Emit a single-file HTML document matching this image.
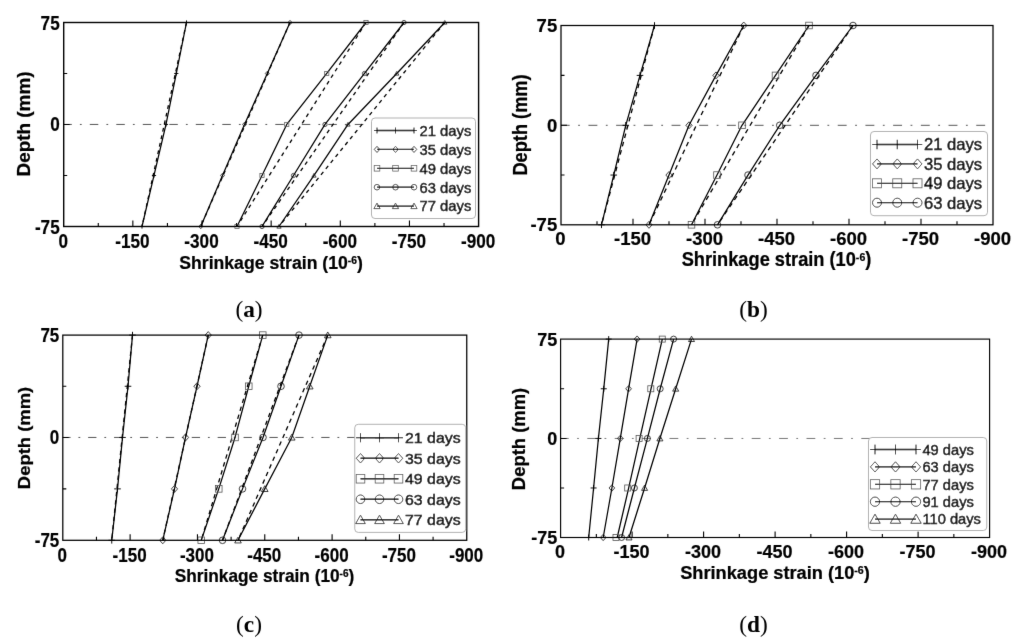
<!DOCTYPE html>
<html lang="en">
<head>
<meta charset="utf-8">
<title>Shrinkage strain versus depth</title>
<style>
html,body{margin:0;padding:0;background:#fff;}
body{width:1024px;height:644px;overflow:hidden;}
svg{display:block;}
</style>
</head>
<body>
<svg width="1024" height="644" viewBox="0 0 1024 644">
<defs><filter id="soft" x="0" y="0" width="1024" height="644" filterUnits="userSpaceOnUse"><feConvolveMatrix order="3" kernelMatrix="0.0049 0.0602 0.0049 0.0602 0.7396 0.0602 0.0049 0.0602 0.0049" divisor="1" edgeMode="duplicate" preserveAlpha="false"/></filter></defs>
<rect x="0" y="0" width="1024" height="644" fill="#fff"/>
<g filter="url(#soft)">
<path d="M63.7 124.45H364" stroke="#555" stroke-width="1" fill="none" stroke-dasharray="8.5 8.1 1.8 8.1" stroke-dashoffset="0.4"/>
<path d="M186.5 22.5L142 226.5" stroke="#000" stroke-width="1.3" fill="none" stroke-dasharray="3.8 3.9"/>
<path d="M290 22.5L200.75 226.5" stroke="#000" stroke-width="1.3" fill="none" stroke-dasharray="3.8 3.9"/>
<path d="M366 22.5L237 226.5" stroke="#000" stroke-width="1.3" fill="none" stroke-dasharray="3.8 3.9"/>
<path d="M404 22.5L262 226.5" stroke="#000" stroke-width="1.3" fill="none" stroke-dasharray="3.8 3.9"/>
<path d="M444.75 22.5L279 226.5" stroke="#000" stroke-width="1.3" fill="none" stroke-dasharray="3.8 3.9"/>
<path d="M186.5 22.5L176.3 73.47L166 124.45L154 175.47L142 226.5" stroke="#000" stroke-width="1.25" fill="none" stroke-linejoin="round"/>
<path d="M290 22.5L267.3 73.47L244.5 124.45L222.5 175.47L200.75 226.5" stroke="#000" stroke-width="1.25" fill="none" stroke-linejoin="round"/>
<path d="M366 22.5L326.75 73.47L286.75 124.45L262 175.47L237 226.5" stroke="#000" stroke-width="1.25" fill="none" stroke-linejoin="round"/>
<path d="M404 22.5L364.5 73.47L325 124.45L293.5 175.47L262 226.5" stroke="#000" stroke-width="1.25" fill="none" stroke-linejoin="round"/>
<path d="M444.75 22.5L396.75 73.47L348 124.45L314 175.47L279 226.5" stroke="#000" stroke-width="1.25" fill="none" stroke-linejoin="round"/>
<path d="M184.4 22.5H188.6M186.5 20.4V24.6" stroke="#000" stroke-width="0.95" fill="none"/>
<path d="M174.2 73.47H178.4M176.3 71.38V75.57" stroke="#000" stroke-width="0.95" fill="none"/>
<path d="M163.9 124.45H168.1M166 122.35V126.55" stroke="#000" stroke-width="0.95" fill="none"/>
<path d="M151.9 175.47H156.1M154 173.38V177.57" stroke="#000" stroke-width="0.95" fill="none"/>
<path d="M139.9 226.5H144.1M142 224.4V228.6" stroke="#000" stroke-width="0.95" fill="none"/>
<path d="M288.02 22.5L290 20.3L291.98 22.5L290 24.7Z" stroke="#111" stroke-width="0.75" fill="none"/>
<path d="M265.32 73.47L267.3 71.27L269.28 73.47L267.3 75.68Z" stroke="#111" stroke-width="0.75" fill="none"/>
<path d="M242.52 124.45L244.5 122.25L246.48 124.45L244.5 126.66Z" stroke="#111" stroke-width="0.75" fill="none"/>
<path d="M220.52 175.47L222.5 173.27L224.48 175.47L222.5 177.68Z" stroke="#111" stroke-width="0.75" fill="none"/>
<path d="M198.77 226.5L200.75 224.29L202.73 226.5L200.75 228.71Z" stroke="#111" stroke-width="0.75" fill="none"/>
<rect x="363.9" y="20.4" width="4.2" height="4.2" stroke="#555" stroke-width="0.75" fill="none"/>
<rect x="324.65" y="71.38" width="4.2" height="4.2" stroke="#555" stroke-width="0.75" fill="none"/>
<rect x="284.65" y="122.35" width="4.2" height="4.2" stroke="#555" stroke-width="0.75" fill="none"/>
<rect x="259.9" y="173.38" width="4.2" height="4.2" stroke="#555" stroke-width="0.75" fill="none"/>
<rect x="234.9" y="224.4" width="4.2" height="4.2" stroke="#555" stroke-width="0.75" fill="none"/>
<circle cx="404" cy="22.5" r="2.1" stroke="#111" stroke-width="0.75" fill="none"/>
<circle cx="364.5" cy="73.47" r="2.1" stroke="#111" stroke-width="0.75" fill="none"/>
<circle cx="325" cy="124.45" r="2.1" stroke="#111" stroke-width="0.75" fill="none"/>
<circle cx="293.5" cy="175.47" r="2.1" stroke="#111" stroke-width="0.75" fill="none"/>
<circle cx="262" cy="226.5" r="2.1" stroke="#111" stroke-width="0.75" fill="none"/>
<path d="M442.65 24.18L444.75 20.5L446.85 24.18Z" stroke="#111" stroke-width="0.75" fill="none"/>
<path d="M394.65 75.16L396.75 71.48L398.85 75.16Z" stroke="#111" stroke-width="0.75" fill="none"/>
<path d="M345.9 126.13L348 122.45L350.1 126.13Z" stroke="#111" stroke-width="0.75" fill="none"/>
<path d="M311.9 177.16L314 173.48L316.1 177.16Z" stroke="#111" stroke-width="0.75" fill="none"/>
<path d="M276.9 228.18L279 224.5L281.1 228.18Z" stroke="#111" stroke-width="0.75" fill="none"/>
<rect x="63.7" y="22.5" width="414.9" height="204" fill="none" stroke="#000" stroke-width="1.4"/>
<path d="M98.28 226.5V223M132.85 226.5V220.5M167.43 226.5V223M202 226.5V220.5M236.57 226.5V223M271.15 226.5V220.5M305.73 226.5V223M340.3 226.5V220.5M374.88 226.5V223M409.45 226.5V220.5M444.03 226.5V223M63.7 73.47H67.2M63.7 175.47H67.2M63.7 124.45H69.7" stroke="#000" stroke-width="1.1" fill="none"/>
<g font-family='"Liberation Sans", Arial, Helvetica, sans-serif' font-weight="700" fill="#000" stroke="#000" stroke-width="0.2">
<text transform="translate(59.7 29.53) scale(0.85 1)" font-size="20.2" text-anchor="end">75</text>
<text transform="translate(59.7 131.48) scale(0.85 1)" font-size="20.2" text-anchor="end">0</text>
<text transform="translate(59.7 233.53) scale(0.85 1)" font-size="20.2" text-anchor="end">-75</text>
<text transform="translate(63.2 248) scale(0.85 1)" font-size="20.2" text-anchor="middle">0</text>
<text transform="translate(132.35 248) scale(0.85 1)" font-size="20.2" text-anchor="middle">-150</text>
<text transform="translate(201.5 248) scale(0.85 1)" font-size="20.2" text-anchor="middle">-300</text>
<text transform="translate(270.65 248) scale(0.85 1)" font-size="20.2" text-anchor="middle">-450</text>
<text transform="translate(339.8 248) scale(0.85 1)" font-size="20.2" text-anchor="middle">-600</text>
<text transform="translate(408.95 248) scale(0.85 1)" font-size="20.2" text-anchor="middle">-750</text>
<text transform="translate(478.1 248) scale(0.85 1)" font-size="20.2" text-anchor="middle">-900</text>
</g>
<g stroke="#000" stroke-width="0.25">
<text transform="translate(271 268.5) scale(0.97 1)" font-size="18.2" text-anchor="middle" font-weight="700" font-family='"Liberation Sans", Arial, Helvetica, sans-serif'>Shrinkage strain (10<tspan font-size="10.56" dy="-4.91">-6</tspan><tspan dy="4.91">)</tspan></text>
<text transform="translate(29.7 124) rotate(-90) scale(1.04 1)" font-size="18.2" text-anchor="middle" font-weight="700" font-family='"Liberation Sans", Arial, Helvetica, sans-serif'>Depth (mm)</text>
</g>
<rect x="371.5" y="118" width="104" height="100.5" rx="3.5" fill="#fff" stroke="#a8a8a8" stroke-width="0.9"/>
<g font-family='"Liberation Sans", Arial, Helvetica, sans-serif' fill="#000" stroke="#000" stroke-width="0.42">
<path d="M377 130.5H414" stroke="#000" stroke-width="1.3" fill="none"/>
<path d="M374.06 130.5H379.94M377 127.56V133.44" stroke="#000" stroke-width="0.95" fill="none"/>
<path d="M392.56 130.5H398.44M395.5 127.56V133.44" stroke="#000" stroke-width="0.95" fill="none"/>
<path d="M411.06 130.5H416.94M414 127.56V133.44" stroke="#000" stroke-width="0.95" fill="none"/>
<text transform="translate(419.5 135.83)" font-size="14.8">21 days</text>
<path d="M377 149.4H414" stroke="#000" stroke-width="1.3" fill="none"/>
<path d="M374.23 149.4L377 146.32L379.77 149.4L377 152.48Z" stroke="#111" stroke-width="0.75" fill="none"/>
<path d="M392.73 149.4L395.5 146.32L398.27 149.4L395.5 152.48Z" stroke="#111" stroke-width="0.75" fill="none"/>
<path d="M411.23 149.4L414 146.32L416.77 149.4L414 152.48Z" stroke="#111" stroke-width="0.75" fill="none"/>
<text transform="translate(419.5 154.73)" font-size="14.8">35 days</text>
<path d="M377 168.3H414" stroke="#000" stroke-width="1.3" fill="none"/>
<rect x="374.2" y="165.5" width="5.6" height="5.6" stroke="#555" stroke-width="0.75" fill="none"/>
<rect x="392.7" y="165.5" width="5.6" height="5.6" stroke="#555" stroke-width="0.75" fill="none"/>
<rect x="411.2" y="165.5" width="5.6" height="5.6" stroke="#555" stroke-width="0.75" fill="none"/>
<text transform="translate(419.5 173.63)" font-size="14.8">49 days</text>
<path d="M377 187.2H414" stroke="#000" stroke-width="1.3" fill="none"/>
<circle cx="377" cy="187.2" r="2.8" stroke="#111" stroke-width="0.75" fill="none"/>
<circle cx="395.5" cy="187.2" r="2.8" stroke="#111" stroke-width="0.75" fill="none"/>
<circle cx="414" cy="187.2" r="2.8" stroke="#111" stroke-width="0.75" fill="none"/>
<text transform="translate(419.5 192.53)" font-size="14.8">63 days</text>
<path d="M377 206.1H414" stroke="#000" stroke-width="1.3" fill="none"/>
<path d="M373.86 208.61L377 203.12L380.14 208.61Z" stroke="#111" stroke-width="0.75" fill="none"/>
<path d="M392.36 208.61L395.5 203.12L398.64 208.61Z" stroke="#111" stroke-width="0.75" fill="none"/>
<path d="M410.86 208.61L414 203.12L417.14 208.61Z" stroke="#111" stroke-width="0.75" fill="none"/>
<text transform="translate(419.5 211.43)" font-size="14.8">77 days</text>
</g>
<text x="249" y="317.3" text-anchor="middle" font-family='"Liberation Serif", "Times New Roman", serif' font-size="23.3" fill="#000">(<tspan font-weight="700">a</tspan>)</text>
<path d="M561 125.3H986.6" stroke="#555" stroke-width="1" fill="none" stroke-dasharray="8.9 8.5 1.8 8.5" stroke-dashoffset="0.25"/>
<path d="M654.5 25.5L601.5 224.8" stroke="#000" stroke-width="1.3" fill="none" stroke-dasharray="4.6 4"/>
<path d="M743.75 25.5L649 224.8" stroke="#000" stroke-width="1.3" fill="none" stroke-dasharray="4.6 4"/>
<path d="M809 25.5L691.5 224.8" stroke="#000" stroke-width="1.3" fill="none" stroke-dasharray="4.6 4"/>
<path d="M853 25.5L717.5 224.8" stroke="#000" stroke-width="1.3" fill="none" stroke-dasharray="4.6 4"/>
<path d="M654.5 25.5L640 75.4L625.75 125.3L613.75 175.05L601.5 224.8" stroke="#000" stroke-width="1.25" fill="none" stroke-linejoin="round"/>
<path d="M743.75 25.5L716 75.4L689 125.3L669 175.05L649 224.8" stroke="#000" stroke-width="1.25" fill="none" stroke-linejoin="round"/>
<path d="M809 25.5L775.5 75.4L742 125.3L717 175.05L691.5 224.8" stroke="#000" stroke-width="1.25" fill="none" stroke-linejoin="round"/>
<path d="M853 25.5L816 75.4L779.75 125.3L748 175.05L717.5 224.8" stroke="#000" stroke-width="1.25" fill="none" stroke-linejoin="round"/>
<path d="M651.2 25.5H657.8M654.5 22.2V28.8" stroke="#000" stroke-width="0.95" fill="none"/>
<path d="M636.7 75.4H643.3M640 72.1V78.7" stroke="#000" stroke-width="0.95" fill="none"/>
<path d="M622.45 125.3H629.05M625.75 122V128.6" stroke="#000" stroke-width="0.95" fill="none"/>
<path d="M610.45 175.05H617.05M613.75 171.75V178.35" stroke="#000" stroke-width="0.95" fill="none"/>
<path d="M598.2 224.8H604.8M601.5 221.5V228.1" stroke="#000" stroke-width="0.95" fill="none"/>
<path d="M740.63 25.5L743.75 22.04L746.87 25.5L743.75 28.96Z" stroke="#111" stroke-width="0.8" fill="none"/>
<path d="M712.88 75.4L716 71.94L719.12 75.4L716 78.87Z" stroke="#111" stroke-width="0.8" fill="none"/>
<path d="M685.88 125.3L689 121.83L692.12 125.3L689 128.76Z" stroke="#111" stroke-width="0.8" fill="none"/>
<path d="M665.88 175.05L669 171.59L672.12 175.05L669 178.52Z" stroke="#111" stroke-width="0.8" fill="none"/>
<path d="M645.88 224.8L649 221.34L652.12 224.8L649 228.27Z" stroke="#111" stroke-width="0.8" fill="none"/>
<rect x="805.7" y="22.2" width="6.6" height="6.6" stroke="#555" stroke-width="0.8" fill="none"/>
<rect x="772.2" y="72.1" width="6.6" height="6.6" stroke="#555" stroke-width="0.8" fill="none"/>
<rect x="738.7" y="122" width="6.6" height="6.6" stroke="#555" stroke-width="0.8" fill="none"/>
<rect x="713.7" y="171.75" width="6.6" height="6.6" stroke="#555" stroke-width="0.8" fill="none"/>
<rect x="688.2" y="221.5" width="6.6" height="6.6" stroke="#555" stroke-width="0.8" fill="none"/>
<circle cx="853" cy="25.5" r="3.3" stroke="#111" stroke-width="0.8" fill="none"/>
<circle cx="816" cy="75.4" r="3.3" stroke="#111" stroke-width="0.8" fill="none"/>
<circle cx="779.75" cy="125.3" r="3.3" stroke="#111" stroke-width="0.8" fill="none"/>
<circle cx="748" cy="175.05" r="3.3" stroke="#111" stroke-width="0.8" fill="none"/>
<circle cx="717.5" cy="224.8" r="3.3" stroke="#111" stroke-width="0.8" fill="none"/>
<rect x="561" y="25.5" width="432" height="199.3" fill="none" stroke="#000" stroke-width="1.25"/>
<path d="M597 224.8V221.3M633 224.8V218.8M669 224.8V221.3M705 224.8V218.8M741 224.8V221.3M777 224.8V218.8M813 224.8V221.3M849 224.8V218.8M885 224.8V221.3M921 224.8V218.8M957 224.8V221.3M561 75.4H564.5M561 175.05H564.5M561 125.3H567" stroke="#000" stroke-width="1.1" fill="none"/>
<g font-family='"Liberation Sans", Arial, Helvetica, sans-serif' font-weight="700" fill="#000" stroke="#000" stroke-width="0.2">
<text transform="translate(557.2 32.07) scale(0.98 1)" font-size="18.9" text-anchor="end">75</text>
<text transform="translate(557.2 131.87) scale(0.98 1)" font-size="18.9" text-anchor="end">0</text>
<text transform="translate(557.2 231.37) scale(0.98 1)" font-size="18.9" text-anchor="end">-75</text>
<text transform="translate(560.5 245.3) scale(0.98 1)" font-size="18.9" text-anchor="middle">0</text>
<text transform="translate(632.5 245.3) scale(0.98 1)" font-size="18.9" text-anchor="middle">-150</text>
<text transform="translate(704.5 245.3) scale(0.98 1)" font-size="18.9" text-anchor="middle">-300</text>
<text transform="translate(776.5 245.3) scale(0.98 1)" font-size="18.9" text-anchor="middle">-450</text>
<text transform="translate(848.5 245.3) scale(0.98 1)" font-size="18.9" text-anchor="middle">-600</text>
<text transform="translate(920.5 245.3) scale(0.98 1)" font-size="18.9" text-anchor="middle">-750</text>
<text transform="translate(992.5 245.3) scale(0.98 1)" font-size="18.9" text-anchor="middle">-900</text>
</g>
<g stroke="#000" stroke-width="0.25">
<text transform="translate(776.5 265.8) scale(0.94 1)" font-size="19.4" text-anchor="middle" font-weight="700" font-family='"Liberation Sans", Arial, Helvetica, sans-serif'>Shrinkage strain (10<tspan font-size="11.25" dy="-5.24">-6</tspan><tspan dy="5.24">)</tspan></text>
<text transform="translate(526.5 125) rotate(-90) scale(0.94 1)" font-size="19.4" text-anchor="middle" font-weight="700" font-family='"Liberation Sans", Arial, Helvetica, sans-serif'>Depth (mm)</text>
</g>
<rect x="870.5" y="131.5" width="117" height="84.2" rx="3.5" fill="#fff" stroke="#a8a8a8" stroke-width="0.9"/>
<g font-family='"Liberation Sans", Arial, Helvetica, sans-serif' fill="#000" stroke="#000" stroke-width="0.42">
<path d="M877 144.5H917.5" stroke="#000" stroke-width="1.3" fill="none"/>
<path d="M872.27 144.5H881.73M877 139.78V149.22" stroke="#000" stroke-width="0.95" fill="none"/>
<path d="M892.52 144.5H901.98M897.25 139.78V149.22" stroke="#000" stroke-width="0.95" fill="none"/>
<path d="M912.77 144.5H922.23M917.5 139.78V149.22" stroke="#000" stroke-width="0.95" fill="none"/>
<text transform="translate(924 150.48)" font-size="16.6">21 days</text>
<path d="M877 163.9H917.5" stroke="#000" stroke-width="1.3" fill="none"/>
<path d="M872.54 163.9L877 158.95L881.46 163.9L877 168.85Z" stroke="#111" stroke-width="0.8" fill="none"/>
<path d="M892.79 163.9L897.25 158.95L901.71 163.9L897.25 168.85Z" stroke="#111" stroke-width="0.8" fill="none"/>
<path d="M913.04 163.9L917.5 158.95L921.96 163.9L917.5 168.85Z" stroke="#111" stroke-width="0.8" fill="none"/>
<text transform="translate(924 169.88)" font-size="16.6">35 days</text>
<path d="M877 183.3H917.5" stroke="#000" stroke-width="1.3" fill="none"/>
<rect x="872.5" y="178.8" width="9" height="9" stroke="#555" stroke-width="0.8" fill="none"/>
<rect x="892.75" y="178.8" width="9" height="9" stroke="#555" stroke-width="0.8" fill="none"/>
<rect x="913" y="178.8" width="9" height="9" stroke="#555" stroke-width="0.8" fill="none"/>
<text transform="translate(924 189.28)" font-size="16.6">49 days</text>
<path d="M877 202.7H917.5" stroke="#000" stroke-width="1.3" fill="none"/>
<circle cx="877" cy="202.7" r="4.5" stroke="#111" stroke-width="0.8" fill="none"/>
<circle cx="897.25" cy="202.7" r="4.5" stroke="#111" stroke-width="0.8" fill="none"/>
<circle cx="917.5" cy="202.7" r="4.5" stroke="#111" stroke-width="0.8" fill="none"/>
<text transform="translate(924 208.68)" font-size="16.6">63 days</text>
</g>
<text x="753.5" y="317.3" text-anchor="middle" font-family='"Liberation Serif", "Times New Roman", serif' font-size="23.3" fill="#000">(<tspan font-weight="700">b</tspan>)</text>
<path d="M62.8 437.45H356" stroke="#555" stroke-width="1" fill="none" stroke-dasharray="8.3 7.9 1.8 7.9" stroke-dashoffset="0.55"/>
<path d="M132.5 335.1L111.75 540.3" stroke="#000" stroke-width="1.3" fill="none" stroke-dasharray="4.4 3.9"/>
<path d="M208.25 335.1L162.75 540.3" stroke="#000" stroke-width="1.3" fill="none" stroke-dasharray="4.4 3.9"/>
<path d="M262.75 335.1L201.25 540.3" stroke="#000" stroke-width="1.3" fill="none" stroke-dasharray="4.4 3.9"/>
<path d="M299 335.1L222.5 540.3" stroke="#000" stroke-width="1.3" fill="none" stroke-dasharray="4.4 3.9"/>
<path d="M327.75 335.1L238 540.3" stroke="#000" stroke-width="1.3" fill="none" stroke-dasharray="4.4 3.9"/>
<path d="M132.5 335.1L128 386.27L122.5 437.45L117.5 488.88L111.75 540.3" stroke="#000" stroke-width="1.25" fill="none" stroke-linejoin="round"/>
<path d="M208.25 335.1L197 386.27L185.5 437.45L174.5 488.88L162.75 540.3" stroke="#000" stroke-width="1.25" fill="none" stroke-linejoin="round"/>
<path d="M262.75 335.1L248.75 386.27L235 437.45L218.75 488.88L201.25 540.3" stroke="#000" stroke-width="1.25" fill="none" stroke-linejoin="round"/>
<path d="M299 335.1L281 386.27L263 437.45L242.5 488.88L222.5 540.3" stroke="#000" stroke-width="1.25" fill="none" stroke-linejoin="round"/>
<path d="M327.75 335.1L309.75 386.27L291.75 437.45L264.75 488.88L238 540.3" stroke="#000" stroke-width="1.25" fill="none" stroke-linejoin="round"/>
<path d="M129.2 335.1H135.8M132.5 331.8V338.4" stroke="#000" stroke-width="0.95" fill="none"/>
<path d="M124.7 386.27H131.3M128 382.97V389.57" stroke="#000" stroke-width="0.95" fill="none"/>
<path d="M119.2 437.45H125.8M122.5 434.15V440.75" stroke="#000" stroke-width="0.95" fill="none"/>
<path d="M114.2 488.88H120.8M117.5 485.57V492.18" stroke="#000" stroke-width="0.95" fill="none"/>
<path d="M108.45 540.3H115.05M111.75 537V543.6" stroke="#000" stroke-width="0.95" fill="none"/>
<path d="M205.13 335.1L208.25 331.64L211.37 335.1L208.25 338.56Z" stroke="#111" stroke-width="0.8" fill="none"/>
<path d="M193.88 386.27L197 382.81L200.12 386.27L197 389.74Z" stroke="#111" stroke-width="0.8" fill="none"/>
<path d="M182.38 437.45L185.5 433.99L188.62 437.45L185.5 440.91Z" stroke="#111" stroke-width="0.8" fill="none"/>
<path d="M171.38 488.88L174.5 485.41L177.62 488.88L174.5 492.34Z" stroke="#111" stroke-width="0.8" fill="none"/>
<path d="M159.63 540.3L162.75 536.83L165.87 540.3L162.75 543.76Z" stroke="#111" stroke-width="0.8" fill="none"/>
<rect x="259.45" y="331.8" width="6.6" height="6.6" stroke="#555" stroke-width="0.8" fill="none"/>
<rect x="245.45" y="382.97" width="6.6" height="6.6" stroke="#555" stroke-width="0.8" fill="none"/>
<rect x="231.7" y="434.15" width="6.6" height="6.6" stroke="#555" stroke-width="0.8" fill="none"/>
<rect x="215.45" y="485.57" width="6.6" height="6.6" stroke="#555" stroke-width="0.8" fill="none"/>
<rect x="197.95" y="537" width="6.6" height="6.6" stroke="#555" stroke-width="0.8" fill="none"/>
<circle cx="299" cy="335.1" r="3.3" stroke="#111" stroke-width="0.8" fill="none"/>
<circle cx="281" cy="386.27" r="3.3" stroke="#111" stroke-width="0.8" fill="none"/>
<circle cx="263" cy="437.45" r="3.3" stroke="#111" stroke-width="0.8" fill="none"/>
<circle cx="242.5" cy="488.88" r="3.3" stroke="#111" stroke-width="0.8" fill="none"/>
<circle cx="222.5" cy="540.3" r="3.3" stroke="#111" stroke-width="0.8" fill="none"/>
<path d="M324.45 337.74L327.75 331.97L331.05 337.74Z" stroke="#111" stroke-width="0.8" fill="none"/>
<path d="M306.45 388.91L309.75 383.14L313.05 388.91Z" stroke="#111" stroke-width="0.8" fill="none"/>
<path d="M288.45 440.09L291.75 434.31L295.05 440.09Z" stroke="#111" stroke-width="0.8" fill="none"/>
<path d="M261.45 491.51L264.75 485.74L268.05 491.51Z" stroke="#111" stroke-width="0.8" fill="none"/>
<path d="M234.7 542.94L238 537.16L241.3 542.94Z" stroke="#111" stroke-width="0.8" fill="none"/>
<rect x="62.8" y="335.1" width="403.95" height="205.2" fill="none" stroke="#000" stroke-width="1.25"/>
<path d="M96.46 540.3V536.8M130.12 540.3V534.3M163.79 540.3V536.8M197.45 540.3V534.3M231.11 540.3V536.8M264.77 540.3V534.3M298.44 540.3V536.8M332.1 540.3V534.3M365.76 540.3V536.8M399.43 540.3V534.3M433.09 540.3V536.8M62.8 386.27H66.3M62.8 488.88H66.3M62.8 437.45H68.8" stroke="#000" stroke-width="1.1" fill="none"/>
<g font-family='"Liberation Sans", Arial, Helvetica, sans-serif' font-weight="700" fill="#000" stroke="#000" stroke-width="0.2">
<text transform="translate(59.3 342.06) scale(0.85 1)" font-size="20" text-anchor="end">75</text>
<text transform="translate(59.3 444.41) scale(0.85 1)" font-size="20" text-anchor="end">0</text>
<text transform="translate(59.3 547.26) scale(0.85 1)" font-size="20" text-anchor="end">-75</text>
<text transform="translate(62.3 561.8) scale(0.85 1)" font-size="20" text-anchor="middle">0</text>
<text transform="translate(129.62 561.8) scale(0.85 1)" font-size="20" text-anchor="middle">-150</text>
<text transform="translate(196.95 561.8) scale(0.85 1)" font-size="20" text-anchor="middle">-300</text>
<text transform="translate(264.27 561.8) scale(0.85 1)" font-size="20" text-anchor="middle">-450</text>
<text transform="translate(331.6 561.8) scale(0.85 1)" font-size="20" text-anchor="middle">-600</text>
<text transform="translate(398.93 561.8) scale(0.85 1)" font-size="20" text-anchor="middle">-750</text>
<text transform="translate(466.25 561.8) scale(0.85 1)" font-size="20" text-anchor="middle">-900</text>
</g>
<g stroke="#000" stroke-width="0.25">
<text transform="translate(264.5 582) scale(0.97 1)" font-size="17.8" text-anchor="middle" font-weight="700" font-family='"Liberation Sans", Arial, Helvetica, sans-serif'>Shrinkage strain (10<tspan font-size="10.32" dy="-4.81">-6</tspan><tspan dy="4.81">)</tspan></text>
<text transform="translate(29.7 438) rotate(-90) scale(1.06 1)" font-size="17.4" text-anchor="middle" font-weight="700" font-family='"Liberation Sans", Arial, Helvetica, sans-serif'>Depth (mm)</text>
</g>
<rect x="354.75" y="424.3" width="110.95" height="108.1" rx="3.5" fill="#fff" stroke="#a8a8a8" stroke-width="0.9"/>
<g font-family='"Liberation Sans", Arial, Helvetica, sans-serif' fill="#000" stroke="#000" stroke-width="0.42">
<path d="M360.5 437.75H398.5" stroke="#000" stroke-width="1.3" fill="none"/>
<path d="M355.99 437.75H365.01M360.5 433.24V442.26" stroke="#000" stroke-width="0.95" fill="none"/>
<path d="M374.99 437.75H384.01M379.5 433.24V442.26" stroke="#000" stroke-width="0.95" fill="none"/>
<path d="M393.99 437.75H403.01M398.5 433.24V442.26" stroke="#000" stroke-width="0.95" fill="none"/>
<text transform="translate(405 443.41) scale(1.09 1)" font-size="14.6">21 days</text>
<path d="M360.5 458.25H398.5" stroke="#000" stroke-width="1.3" fill="none"/>
<path d="M356.24 458.25L360.5 453.52L364.76 458.25L360.5 462.98Z" stroke="#111" stroke-width="0.8" fill="none"/>
<path d="M375.24 458.25L379.5 453.52L383.76 458.25L379.5 462.98Z" stroke="#111" stroke-width="0.8" fill="none"/>
<path d="M394.24 458.25L398.5 453.52L402.76 458.25L398.5 462.98Z" stroke="#111" stroke-width="0.8" fill="none"/>
<text transform="translate(405 463.91) scale(1.09 1)" font-size="14.6">35 days</text>
<path d="M360.5 478.75H398.5" stroke="#000" stroke-width="1.3" fill="none"/>
<rect x="356.2" y="474.45" width="8.6" height="8.6" stroke="#555" stroke-width="0.8" fill="none"/>
<rect x="375.2" y="474.45" width="8.6" height="8.6" stroke="#555" stroke-width="0.8" fill="none"/>
<rect x="394.2" y="474.45" width="8.6" height="8.6" stroke="#555" stroke-width="0.8" fill="none"/>
<text transform="translate(405 484.41) scale(1.09 1)" font-size="14.6">49 days</text>
<path d="M360.5 499.25H398.5" stroke="#000" stroke-width="1.3" fill="none"/>
<circle cx="360.5" cy="499.25" r="4.3" stroke="#111" stroke-width="0.8" fill="none"/>
<circle cx="379.5" cy="499.25" r="4.3" stroke="#111" stroke-width="0.8" fill="none"/>
<circle cx="398.5" cy="499.25" r="4.3" stroke="#111" stroke-width="0.8" fill="none"/>
<text transform="translate(405 504.91) scale(1.09 1)" font-size="14.6">63 days</text>
<path d="M360.5 519.75H398.5" stroke="#000" stroke-width="1.3" fill="none"/>
<path d="M355.68 523.6L360.5 515.17L365.32 523.6Z" stroke="#111" stroke-width="0.8" fill="none"/>
<path d="M374.68 523.6L379.5 515.17L384.32 523.6Z" stroke="#111" stroke-width="0.8" fill="none"/>
<path d="M393.68 523.6L398.5 515.17L403.32 523.6Z" stroke="#111" stroke-width="0.8" fill="none"/>
<text transform="translate(405 525.41) scale(1.09 1)" font-size="14.6">77 days</text>
</g>
<text x="249" y="632.2" text-anchor="middle" font-family='"Liberation Serif", "Times New Roman", serif' font-size="23.3" fill="#000">(<tspan font-weight="700">c</tspan>)</text>
<path d="M560.6 438.45H870" stroke="#777" stroke-width="1" fill="none" stroke-dasharray="8.8 8.4 1.8 8.4" stroke-dashoffset="0.7"/>
<path d="M608.7 339.1L603.75 388.77L598.4 438.45L593.6 487.98L588.7 537.5" stroke="#000" stroke-width="1.25" fill="none" stroke-linejoin="round"/>
<path d="M637.1 339.1L628.6 388.77L620.3 438.45L611.9 487.98L603.2 537.5" stroke="#000" stroke-width="1.25" fill="none" stroke-linejoin="round"/>
<path d="M662.3 339.1L651 388.77L639.8 438.45L628.7 487.98L617.2 537.5" stroke="#000" stroke-width="1.25" fill="none" stroke-linejoin="round"/>
<path d="M673.6 339.1L660.2 388.77L647.4 438.45L634.4 487.98L621.6 537.5" stroke="#000" stroke-width="1.25" fill="none" stroke-linejoin="round"/>
<path d="M691.5 339.1L675.7 388.77L659.9 438.45L644.6 487.98L629 537.5" stroke="#000" stroke-width="1.25" fill="none" stroke-linejoin="round"/>
<path d="M605.7 339.1H611.7M608.7 336.1V342.1" stroke="#000" stroke-width="0.95" fill="none"/>
<path d="M600.75 388.77H606.75M603.75 385.77V391.77" stroke="#000" stroke-width="0.95" fill="none"/>
<path d="M595.4 438.45H601.4M598.4 435.45V441.45" stroke="#000" stroke-width="0.95" fill="none"/>
<path d="M590.6 487.98H596.6M593.6 484.98V490.98" stroke="#000" stroke-width="0.95" fill="none"/>
<path d="M585.7 537.5H591.7M588.7 534.5V540.5" stroke="#000" stroke-width="0.95" fill="none"/>
<path d="M634.26 339.1L637.1 335.95L639.94 339.1L637.1 342.25Z" stroke="#111" stroke-width="0.8" fill="none"/>
<path d="M625.76 388.77L628.6 385.62L631.44 388.77L628.6 391.92Z" stroke="#111" stroke-width="0.8" fill="none"/>
<path d="M617.46 438.45L620.3 435.3L623.13 438.45L620.3 441.6Z" stroke="#111" stroke-width="0.8" fill="none"/>
<path d="M609.06 487.98L611.9 484.83L614.74 487.98L611.9 491.12Z" stroke="#111" stroke-width="0.8" fill="none"/>
<path d="M600.37 537.5L603.2 534.35L606.04 537.5L603.2 540.65Z" stroke="#111" stroke-width="0.8" fill="none"/>
<rect x="659.25" y="336.1" width="6" height="6" stroke="#555" stroke-width="0.8" fill="none"/>
<rect x="647.8" y="385.77" width="6" height="6" stroke="#555" stroke-width="0.8" fill="none"/>
<rect x="636.1" y="435.45" width="6" height="6" stroke="#555" stroke-width="0.8" fill="none"/>
<rect x="624.7" y="484.98" width="6" height="6" stroke="#555" stroke-width="0.8" fill="none"/>
<rect x="613" y="534.5" width="6" height="6" stroke="#555" stroke-width="0.8" fill="none"/>
<circle cx="673.6" cy="339.1" r="3" stroke="#111" stroke-width="0.8" fill="none"/>
<circle cx="660.2" cy="388.77" r="3" stroke="#111" stroke-width="0.8" fill="none"/>
<circle cx="647.4" cy="438.45" r="3" stroke="#111" stroke-width="0.8" fill="none"/>
<circle cx="634.4" cy="487.98" r="3" stroke="#111" stroke-width="0.8" fill="none"/>
<circle cx="621.6" cy="537.5" r="3" stroke="#111" stroke-width="0.8" fill="none"/>
<path d="M688.5 341.5L691.5 336.25L694.5 341.5Z" stroke="#111" stroke-width="0.8" fill="none"/>
<path d="M672.7 391.17L675.7 385.92L678.7 391.17Z" stroke="#111" stroke-width="0.8" fill="none"/>
<path d="M656.9 440.85L659.9 435.6L662.9 440.85Z" stroke="#111" stroke-width="0.8" fill="none"/>
<path d="M641.6 490.38L644.6 485.12L647.6 490.38Z" stroke="#111" stroke-width="0.8" fill="none"/>
<path d="M626 539.9L629 534.65L632 539.9Z" stroke="#111" stroke-width="0.8" fill="none"/>
<rect x="560.6" y="339.1" width="429" height="198.4" fill="none" stroke="#000" stroke-width="1.15"/>
<path d="M596.35 537.5V534M632.1 537.5V531.5M667.85 537.5V534M703.6 537.5V531.5M739.35 537.5V534M775.1 537.5V531.5M810.85 537.5V534M846.6 537.5V531.5M882.35 537.5V534M918.1 537.5V531.5M953.85 537.5V534M560.6 388.77H564.1M560.6 487.98H564.1M560.6 438.45H566.6" stroke="#000" stroke-width="1.1" fill="none"/>
<g font-family='"Liberation Sans", Arial, Helvetica, sans-serif' font-weight="700" fill="#000" stroke="#000" stroke-width="0.2">
<text transform="translate(557.4 345.56) scale(0.97 1)" font-size="18.6" text-anchor="end">75</text>
<text transform="translate(557.4 444.91) scale(0.97 1)" font-size="18.6" text-anchor="end">0</text>
<text transform="translate(557.4 543.96) scale(0.97 1)" font-size="18.6" text-anchor="end">-75</text>
<text transform="translate(560.1 558.1) scale(0.97 1)" font-size="18.6" text-anchor="middle">0</text>
<text transform="translate(631.6 558.1) scale(0.97 1)" font-size="18.6" text-anchor="middle">-150</text>
<text transform="translate(703.1 558.1) scale(0.97 1)" font-size="18.6" text-anchor="middle">-300</text>
<text transform="translate(774.6 558.1) scale(0.97 1)" font-size="18.6" text-anchor="middle">-450</text>
<text transform="translate(846.1 558.1) scale(0.97 1)" font-size="18.6" text-anchor="middle">-600</text>
<text transform="translate(917.6 558.1) scale(0.97 1)" font-size="18.6" text-anchor="middle">-750</text>
<text transform="translate(989.1 558.1) scale(0.97 1)" font-size="18.6" text-anchor="middle">-900</text>
</g>
<g stroke="#000" stroke-width="0.25">
<text transform="translate(775 578.6) scale(0.98 1)" font-size="18.6" text-anchor="middle" font-weight="700" font-family='"Liberation Sans", Arial, Helvetica, sans-serif'>Shrinkage strain (10<tspan font-size="10.79" dy="-5.02">-6</tspan><tspan dy="5.02">)</tspan></text>
<text transform="translate(525.2 439) rotate(-90) scale(0.99 1)" font-size="18.6" text-anchor="middle" font-weight="700" font-family='"Liberation Sans", Arial, Helvetica, sans-serif'>Depth (mm)</text>
</g>
<rect x="868.5" y="437.5" width="118.25" height="93" rx="3.5" fill="#fff" stroke="#a8a8a8" stroke-width="0.9"/>
<g font-family='"Liberation Sans", Arial, Helvetica, sans-serif' fill="#000" stroke="#000" stroke-width="0.42">
<path d="M875 449.5H916" stroke="#000" stroke-width="1.3" fill="none"/>
<path d="M870.12 449.5H879.88M875 444.62V454.38" stroke="#000" stroke-width="0.95" fill="none"/>
<path d="M890.62 449.5H900.38M895.5 444.62V454.38" stroke="#000" stroke-width="0.95" fill="none"/>
<path d="M911.12 449.5H920.88M916 444.62V454.38" stroke="#000" stroke-width="0.95" fill="none"/>
<text transform="translate(922.4 454.79)" font-size="14.7">49 days</text>
<path d="M875 466.9H916" stroke="#000" stroke-width="1.3" fill="none"/>
<path d="M870.4 466.9L875 461.78L879.6 466.9L875 472.01Z" stroke="#111" stroke-width="0.8" fill="none"/>
<path d="M890.9 466.9L895.5 461.78L900.1 466.9L895.5 472.01Z" stroke="#111" stroke-width="0.8" fill="none"/>
<path d="M911.4 466.9L916 461.78L920.6 466.9L916 472.01Z" stroke="#111" stroke-width="0.8" fill="none"/>
<text transform="translate(922.4 472.19)" font-size="14.7">63 days</text>
<path d="M875 484.3H916" stroke="#000" stroke-width="1.3" fill="none"/>
<rect x="870.35" y="479.65" width="9.3" height="9.3" stroke="#555" stroke-width="0.8" fill="none"/>
<rect x="890.85" y="479.65" width="9.3" height="9.3" stroke="#555" stroke-width="0.8" fill="none"/>
<rect x="911.35" y="479.65" width="9.3" height="9.3" stroke="#555" stroke-width="0.8" fill="none"/>
<text transform="translate(922.4 489.59)" font-size="14.7">77 days</text>
<path d="M875 501.7H916" stroke="#000" stroke-width="1.3" fill="none"/>
<circle cx="875" cy="501.7" r="4.65" stroke="#111" stroke-width="0.8" fill="none"/>
<circle cx="895.5" cy="501.7" r="4.65" stroke="#111" stroke-width="0.8" fill="none"/>
<circle cx="916" cy="501.7" r="4.65" stroke="#111" stroke-width="0.8" fill="none"/>
<text transform="translate(922.4 506.99)" font-size="14.7">91 days</text>
<path d="M875 519.1H916" stroke="#000" stroke-width="1.3" fill="none"/>
<path d="M869.79 523.27L875 514.15L880.21 523.27Z" stroke="#111" stroke-width="0.8" fill="none"/>
<path d="M890.29 523.27L895.5 514.15L900.71 523.27Z" stroke="#111" stroke-width="0.8" fill="none"/>
<path d="M910.79 523.27L916 514.15L921.21 523.27Z" stroke="#111" stroke-width="0.8" fill="none"/>
<text transform="translate(922.4 524.39)" font-size="14.7">110 days</text>
</g>
<text x="753.5" y="632.2" text-anchor="middle" font-family='"Liberation Serif", "Times New Roman", serif' font-size="23.3" fill="#000">(<tspan font-weight="700">d</tspan>)</text>
</g>
</svg>
</body>
</html>
